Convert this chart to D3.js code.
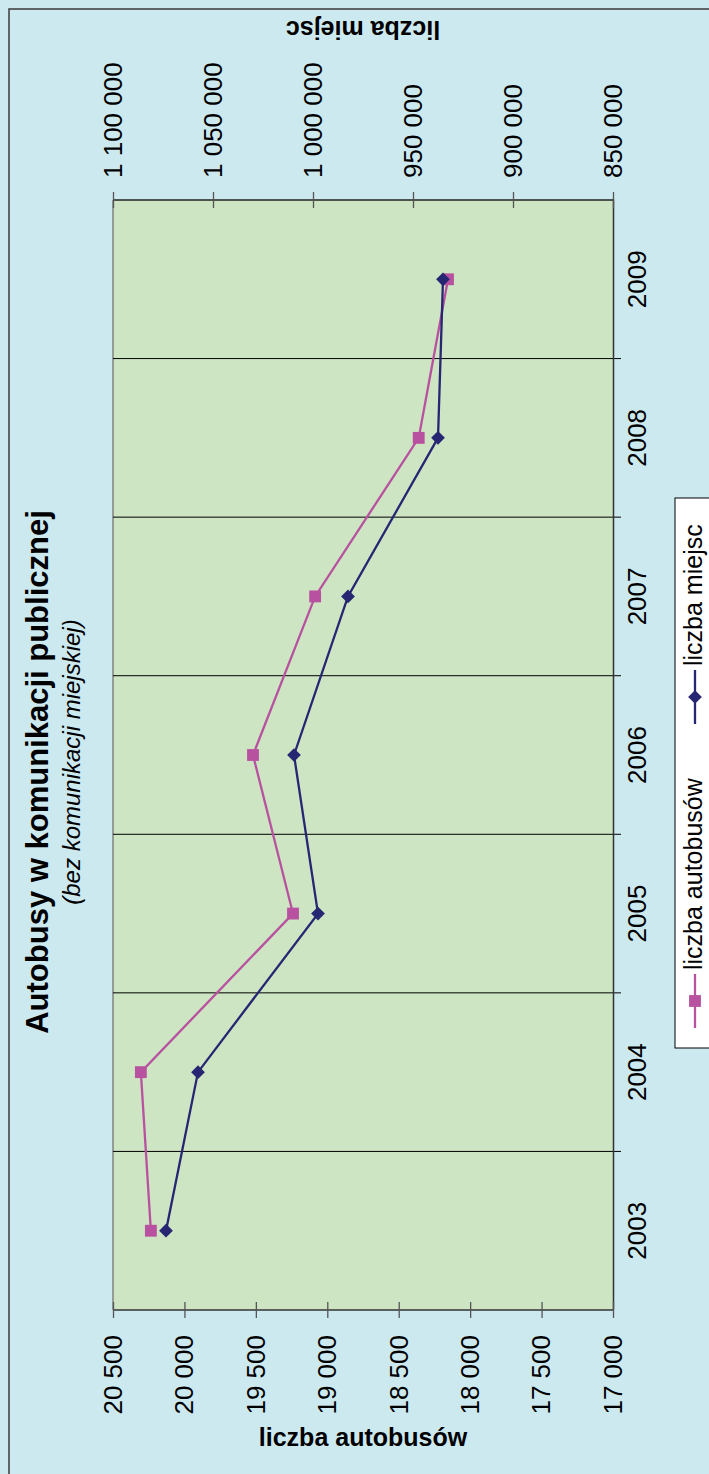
<!DOCTYPE html>
<html>
<head>
<meta charset="utf-8">
<script src="https://cdn.jsdelivr.net/npm/d3@7"></script>
<style>
  html, body { margin: 0; padding: 0; background: #cde9f0; }
  svg { display: block; }
  text { font-family: "Liberation Sans", Arial, sans-serif; fill: #000; }
</style>
</head>
<body>
<svg id="chart" width="709" height="1474"></svg>
<script>
// Years on the category axis
const years = ["2003", "2004", "2005", "2006", "2007", "2008", "2009"];
// Number of buses (left value axis)
const busCount = [20235, 20305, 19240, 19520, 19085, 18360, 18155];
// Number of seats (right value axis)
const seatCount = [1073500, 1057500, 997500, 1009500, 982500, 937500, 935000];
// Tick values
const busTicks = [17000, 17500, 18000, 18500, 19000, 19500, 20000, 20500];
const seatTicks = [850000, 900000, 950000, 1000000, 1050000, 1100000];

const W = 709, H = 1474;
const svg = d3.select("#chart");

// Polish number format: space as thousands separator
const pl = d3.formatLocale({ decimal: ",", thousands: "\u00a0", grouping: [3], currency: ["", " zł"] });
const fmt = pl.format(",d");
const FONT = "Liberation Sans, Arial, sans-serif";
const TICK_SIZE = "26px";

// page background and outer frame
svg.append("rect").attr("width", W).attr("height", H).attr("fill", "#cde9f0");
svg.append("rect").attr("x", 9).attr("y", 9).attr("width", 900).attr("height", 1700)
  .attr("fill", "none").attr("stroke", "#3a3a3a").attr("stroke-width", 1.5);

// The chart is laid out landscape (width = H, height = W) and turned a quarter turn
const g = svg.append("g").attr("transform", `translate(0,${H}) rotate(-90)`);

const pLeft = 164, pRight = 1274, pTop = 113, pBottom = 613;

const x = d3.scaleBand().domain(years).range([pLeft, pRight]);
const yBus = d3.scaleLinear().domain([17000, 20500]).range([pBottom, pTop]);
const ySeat = d3.scaleLinear().domain([850000, 1100000]).range([pBottom, pTop]);

// plot area
g.append("rect").attr("x", pLeft).attr("y", pTop).attr("width", pRight - pLeft).attr("height", pBottom - pTop)
  .attr("fill", "#cde5c3");
// plot area upper edge
g.append("line").attr("x1", pLeft).attr("x2", pRight).attr("y1", pTop).attr("y2", pTop)
  .attr("stroke", "#808080").attr("stroke-width", 1.5);

// category separators (gridlines + crossing ticks)
const bounds = d3.range(years.length + 1).map(i => pLeft + i * x.step());
g.append("g").selectAll("line").data(bounds.slice(1, -1)).join("line")
  .attr("x1", d => d).attr("x2", d => d).attr("y1", pTop).attr("y2", pBottom + 8)
  .attr("stroke", "#000").attr("stroke-width", 1);

// category axis
const xAxis = g.append("g").attr("transform", `translate(0,${pBottom})`)
  .call(d3.axisBottom(x).tickSize(0).tickPadding(15));
xAxis.select(".domain").attr("stroke", "#333").attr("stroke-width", 1.5);
xAxis.selectAll("text").style("font-size", TICK_SIZE).style("font-family", FONT);

// left value axis: number of buses
const yAxisL = g.append("g").attr("transform", `translate(${pLeft},0)`)
  .call(d3.axisLeft(yBus).tickValues(busTicks).tickFormat(fmt).tickSize(8).tickPadding(17));
yAxisL.select(".domain").attr("stroke", "#333").attr("stroke-width", 1.5).attr("d", `M0,${pTop}V${pBottom}`);
yAxisL.selectAll(".tick line").attr("x1", 8).attr("x2", -8).attr("stroke", "#555").attr("stroke-width", 1.3);
yAxisL.selectAll("text").style("font-size", TICK_SIZE).style("font-family", FONT);

// right value axis: number of seats
const yAxisR = g.append("g").attr("transform", `translate(${pRight},0)`)
  .call(d3.axisRight(ySeat).tickValues(seatTicks).tickFormat(fmt).tickSize(8).tickPadding(14));
yAxisR.select(".domain").attr("stroke", "#222").attr("stroke-width", 1.5).attr("d", `M0,${pTop}V${pBottom}`);
yAxisR.selectAll(".tick line").attr("x1", -8).attr("x2", 8).attr("stroke", "#555").attr("stroke-width", 1.3);
yAxisR.selectAll("text").style("font-size", TICK_SIZE).style("font-family", FONT);

// axis titles
g.append("text").attr("transform", `translate(37,${(pTop + pBottom) / 2}) rotate(90)`)
  .attr("text-anchor", "middle").attr("dy", "0.35em")
  .style("font-size", "25px").style("font-weight", "bold").text("liczba autobusów");
g.append("text").attr("transform", `translate(1444,${(pTop + pBottom) / 2}) rotate(-90)`)
  .attr("text-anchor", "middle").attr("dy", "0.35em")
  .style("font-size", "25px").style("font-weight", "bold").text("liczba miejsc");

// title
g.append("text").attr("x", 702).attr("y", 48).attr("text-anchor", "middle")
  .style("font-size", "31px").style("font-weight", "bold").text("Autobusy w komunikacji publicznej");
g.append("text").attr("x", 712).attr("y", 80).attr("text-anchor", "middle")
  .style("font-size", "24px").style("font-style", "italic").text("(bez komunikacji miejskiej)");

const cx = d => x(d) + x.bandwidth() / 2;
const pink = "#b8519f", navy = "#262672";

// series lines
const busData = years.map((d, i) => ({ year: d, v: busCount[i] }));
const seatData = years.map((d, i) => ({ year: d, v: seatCount[i] }));

g.append("path").datum(busData)
  .attr("d", d3.line().x(d => cx(d.year)).y(d => yBus(d.v)))
  .attr("fill", "none").attr("stroke", pink).attr("stroke-width", 2.3);
g.append("path").datum(seatData)
  .attr("d", d3.line().x(d => cx(d.year)).y(d => ySeat(d.v)))
  .attr("fill", "none").attr("stroke", navy).attr("stroke-width", 2.3);

// markers
const sq = d3.symbol().type(d3.symbolSquare).size(140);
const dm = d3.symbol().type(d3.symbolDiamond2).size(120);
g.append("g").selectAll("path").data(busData).join("path")
  .attr("transform", d => `translate(${cx(d.year)},${yBus(d.v)})`)
  .attr("d", sq).attr("fill", pink);
g.append("g").selectAll("path").data(seatData).join("path")
  .attr("transform", d => `translate(${cx(d.year)},${ySeat(d.v)})`)
  .attr("d", dm).attr("fill", navy);

// legend
const lg = g.append("g");
lg.append("rect").attr("x", 426).attr("y", 675).attr("width", 550).attr("height", 60)
  .attr("fill", "#ffffff").attr("stroke", "#000").attr("stroke-width", 1);
const legendItems = [
  { label: "liczba autobusów", color: pink, sym: sq, x0: 446 },
  { label: "liczba miejsc", color: navy, sym: dm, x0: 750 }
];
legendItems.forEach(it => {
  lg.append("line").attr("x1", it.x0).attr("x2", it.x0 + 54).attr("y1", 695).attr("y2", 695)
    .attr("stroke", it.color).attr("stroke-width", 2.3);
  lg.append("path").attr("transform", `translate(${it.x0 + 27},695)`).attr("d", it.sym).attr("fill", it.color);
  lg.append("text").attr("x", it.x0 + 58).attr("y", 702).style("font-size", "25px").text(it.label);
});
</script>
</body>
</html>
